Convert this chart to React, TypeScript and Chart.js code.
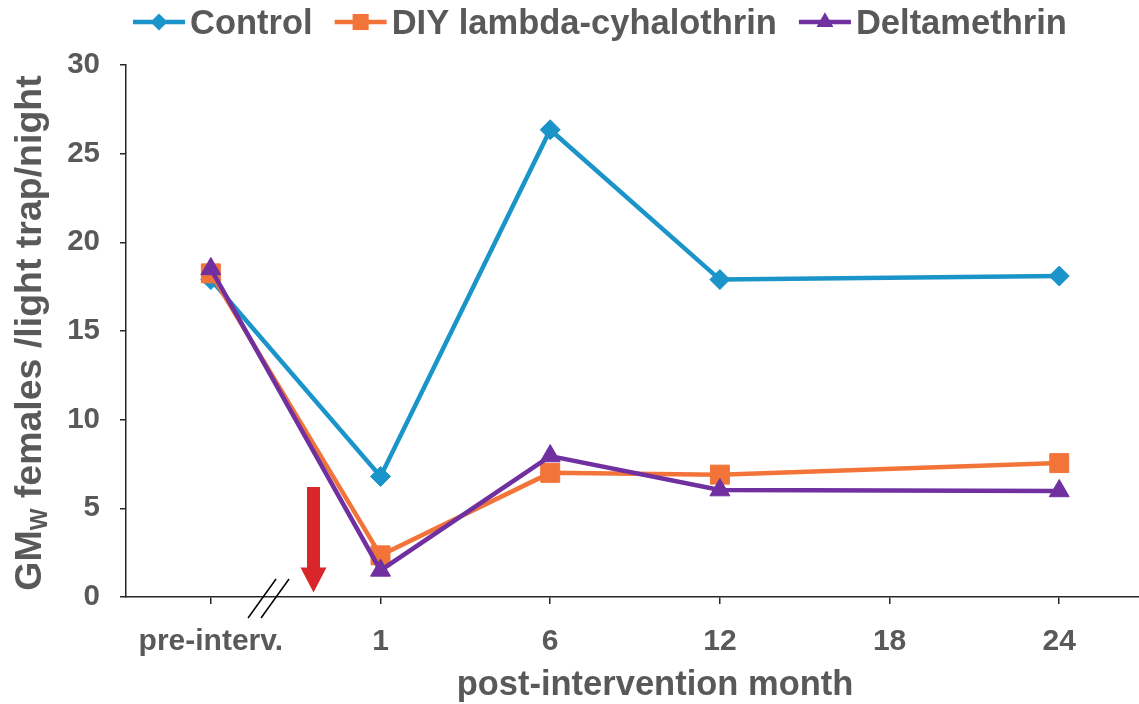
import React, { useEffect, useRef } from 'react';
import { Chart, registerables } from 'chart.js';

Chart.register(...registerables);

// ---- data ----
const tickLabels = ['pre-interv.', '1', '6', '12', '18', '24'];
const tickPositions = [0, 1, 2, 3, 4, 5];
const pointPositions = [0, 1, 2, 3, 5]; // pre-interv., 1, 6, 12, 24
const controlValues = [17.9, 6.8, 26.35, 17.9, 18.1];
const diyValues = [18.25, 2.35, 7.0, 6.9, 7.55];
const deltaValues = [18.5, 1.5, 7.95, 6.03, 5.98];
const seriesNames = ['Control', 'DIY lambda-cyhalothrin', 'Deltamethrin'];
const seriesColors = ['#1b95c9', '#f37439', '#7030a0'];
const seriesStyles = ['rectRot', 'rect', 'triangle'];
const seriesRadius = [10, 13.4, 11.5];
const seriesOrder = [3, 2, 1];
const yTicks = { min: 0, max: 30, step: 5 };

const FONT = '"Liberation Sans", Arial, sans-serif';
const TEXT = '#595959';
const AXIS = '#262626';

function drawMarker(ctx: CanvasRenderingContext2D, style: string, r: number, x: number, y: number, color: string) {
  ctx.save();
  ctx.fillStyle = color;
  ctx.beginPath();
  if (style === 'rectRot') {
    ctx.moveTo(x - r, y);
    ctx.lineTo(x, y - r);
    ctx.lineTo(x + r, y);
    ctx.lineTo(x, y + r);
  } else if (style === 'rect') {
    const s = r * Math.SQRT1_2;
    ctx.rect(x - s, y - s, 2 * s, 2 * s);
  } else {
    const a = (2 * Math.PI) / 3;
    ctx.moveTo(x, y - r);
    ctx.lineTo(x + Math.sin(a) * r, y - Math.cos(a) * r);
    ctx.lineTo(x + Math.sin(2 * a) * r, y - Math.cos(2 * a) * r);
  }
  ctx.closePath();
  ctx.fill();
  ctx.restore();
}

const decorPlugin = {
  id: 'decor',
  afterDraw(chart: any) {
    const ctx: CanvasRenderingContext2D = chart.ctx;
    const xs = chart.scales.x;
    const ys = chart.scales.y;
    const bottom = chart.chartArea.bottom;

    // legend
    ctx.save();
    ctx.font = `bold 34.5px ${FONT}`;
    ctx.textBaseline = 'middle';
    let x0 = 133;
    const ly = 22;
    seriesNames.forEach((name, i) => {
      ctx.strokeStyle = seriesColors[i];
      ctx.lineWidth = 4.5;
      ctx.beginPath();
      ctx.moveTo(x0, ly);
      ctx.lineTo(x0 + 52, ly);
      ctx.stroke();
      drawMarker(ctx, seriesStyles[i], seriesRadius[i] * 0.85, x0 + 26, ly, seriesColors[i]);
      ctx.fillStyle = TEXT;
      ctx.textAlign = 'left';
      ctx.fillText(name, x0 + 57, ly + 2);
      x0 = x0 + 57 + ctx.measureText(name).width + 22;
    });
    ctx.restore();

    // y title with subscript
    ctx.save();
    ctx.translate(31, 333);
    ctx.rotate(-Math.PI / 2);
    ctx.fillStyle = TEXT;
    ctx.textBaseline = 'middle';
    ctx.textAlign = 'left';
    const big = `bold 37.5px ${FONT}`;
    const small = `bold 23px ${FONT}`;
    ctx.font = big;
    const p1 = 'GM';
    const p3 = ' females /light trap/night';
    const w1 = ctx.measureText(p1).width;
    const w3 = ctx.measureText(p3).width;
    ctx.font = small;
    const p2 = 'W';
    const w2 = ctx.measureText(p2).width;
    let sx = -(w1 + w2 + w3) / 2;
    ctx.font = big;
    ctx.fillText(p1, sx, 0);
    sx += w1;
    ctx.font = small;
    ctx.fillText(p2, sx, 10);
    sx += w2;
    ctx.font = big;
    ctx.fillText(p3, sx, 0);
    ctx.restore();

    // x title
    ctx.save();
    ctx.fillStyle = TEXT;
    ctx.font = `bold 34.5px ${FONT}`;
    ctx.textAlign = 'center';
    ctx.textBaseline = 'alphabetic';
    ctx.fillText('post-intervention month', 655, 695);
    ctx.restore();

    // axis break marks
    ctx.save();
    ctx.strokeStyle = '#000';
    ctx.lineWidth = 1.5;
    const bx = xs.getPixelForValue(0.34);
    [-6.5, 6.5].forEach((off) => {
      ctx.beginPath();
      ctx.moveTo(bx + off - 14, bottom + 21);
      ctx.lineTo(bx + off + 14, bottom - 18);
      ctx.stroke();
    });
    ctx.restore();

    // intervention arrow
    ctx.save();
    ctx.fillStyle = '#d9262a';
    const ax = xs.getPixelForValue(0.605);
    const aTop = ys.getPixelForValue(6.2);
    const aTip = ys.getPixelForValue(0.25);
    const headLen = 25;
    ctx.beginPath();
    ctx.moveTo(ax - 6.5, aTop);
    ctx.lineTo(ax + 6.5, aTop);
    ctx.lineTo(ax + 6.5, aTip - headLen);
    ctx.lineTo(ax + 13, aTip - headLen);
    ctx.lineTo(ax, aTip);
    ctx.lineTo(ax - 13, aTip - headLen);
    ctx.lineTo(ax - 6.5, aTip - headLen);
    ctx.closePath();
    ctx.fill();
    ctx.restore();
  },
};

export default function App() {
  const ref = useRef<HTMLCanvasElement | null>(null);
  useEffect(() => {
    if (!ref.current) return;
    const mk = (vals: number[]) => vals.map((v, i) => ({ x: pointPositions[i], y: v }));
    const all = [controlValues, diyValues, deltaValues];
    const chart = new Chart(ref.current, {
      type: 'line',
      data: {
        datasets: all.map((vals, i) => ({
          label: seriesNames[i],
          data: mk(vals),
          order: seriesOrder[i],
          borderColor: seriesColors[i],
          backgroundColor: seriesColors[i],
          borderWidth: 4.5,
          pointStyle: seriesStyles[i] as any,
          pointRadius: seriesRadius[i],
          pointBorderWidth: 1,
          pointBackgroundColor: seriesColors[i],
          pointBorderColor: seriesColors[i],
          tension: 0,
          clip: false as any,
        })),
      },
      options: {
        animation: false,
        responsive: false,
        maintainAspectRatio: false,
        devicePixelRatio: 1,
        layout: { autoPadding: false, padding: { top: 65, left: 0, right: 0, bottom: 0 } },
        plugins: { legend: { display: false }, tooltip: { enabled: false }, title: { display: false } },
        scales: {
          x: {
            type: 'linear',
            min: -0.5,
            max: 5.47,
            afterBuildTicks: (s: any) => {
              s.ticks = tickPositions.map((v) => ({ value: v }));
            },
            afterFit: (s: any) => {
              s.height = 107;
            },
            ticks: {
              callback: (v: any) => tickLabels[Math.round(Number(v))] ?? '',
              font: { family: FONT, size: 30, weight: 'bold', lineHeight: 2.5 },
              color: TEXT,
              padding: 0,
              maxRotation: 0,
              autoSkip: false,
            },
            grid: { drawOnChartArea: false, drawTicks: true, tickLength: 7, color: AXIS, lineWidth: 1.5 },
            border: { display: true, color: AXIS, width: 1.5 },
          },
          y: {
            min: yTicks.min,
            max: yTicks.max,
            afterFit: (s: any) => {
              s.width = 126;
            },
            ticks: {
              stepSize: yTicks.step,
              font: { family: FONT, size: 29.5, weight: 'bold' },
              color: TEXT,
              padding: 20,
            },
            grid: { drawOnChartArea: false, drawTicks: true, tickLength: 6, color: AXIS, lineWidth: 1.5 },
            border: { display: true, color: AXIS, width: 1.5 },
          },
        },
      },
      plugins: [decorPlugin],
    });
    return () => chart.destroy();
  }, []);
  return (
    <div style={{ position: 'absolute', left: 0, top: 0, width: 1139, height: 704, background: '#fff' }}>
      <canvas ref={ref} width={1139} height={704} style={{ display: 'block', width: 1139, height: 704 }} />
    </div>
  );
}
